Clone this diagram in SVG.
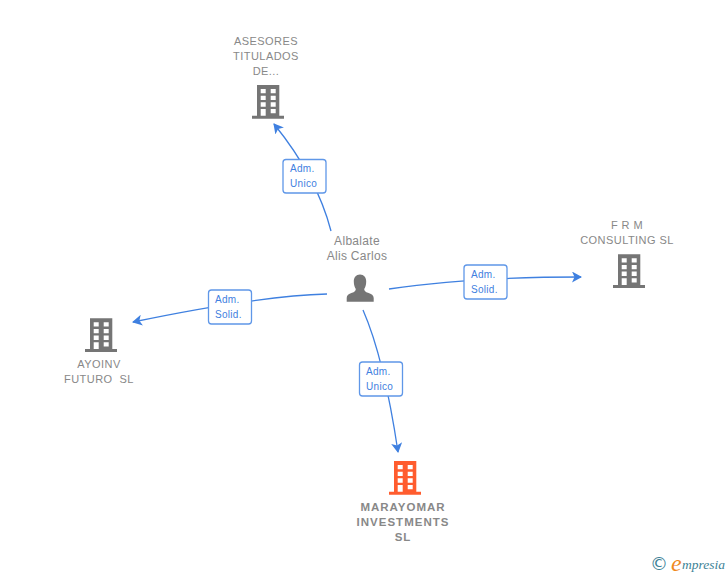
<svg xmlns="http://www.w3.org/2000/svg" xmlns:xlink="http://www.w3.org/1999/xlink" width="728" height="575" viewBox="0 0 728 575">
<style>
text{font-family:"Liberation Sans",Arial,sans-serif}
.n{font-size:11px;fill:#888;text-anchor:middle;letter-spacing:.45px}
.b{font-weight:bold;font-size:11.5px;letter-spacing:1px}
.p{font-size:12px;letter-spacing:.3px}
.l{font-size:10px;fill:#3f80e0;letter-spacing:.3px}
.c{fill:none;stroke:#3f80e0;stroke-width:1.300}
.box{fill:#fff;stroke:#5f97e8;stroke-width:1.300}
.ah{fill:#3f80e0}
</style>
<defs>
<path id="bld" fill-rule="evenodd" d="M5 0H27.300V30.700H32V33.700H0V30.700H5ZM8.700 4V8.300H13.700V4ZM18.700 4V8.300H23.700V4ZM8.700 10.700V15H13.700V10.700ZM18.700 10.700V15H23.700V10.700ZM8.700 17.300V21.700H13.700V17.300ZM18.700 17.300V21.700H23.700V17.300ZM8.700 24V30.700H13.700V24ZM18.700 24V28.300H23.700V24Z"/>
<marker id="arr" viewBox="0 0 10 11" refX="9" refY="5.500" markerWidth="10" markerHeight="11" markerUnits="userSpaceOnUse" orient="auto"><path class="ah" d="M0 0L10 5.500L0 11L2.500 5.500Z"/></marker>
</defs>
<g id="connectors">
<path class="c" marker-end="url(#arr)" d="M331 231Q317 177 274 124"/>
<path class="c" marker-end="url(#arr)" d="M389 289Q470 277 581 277"/>
<path class="c" marker-end="url(#arr)" d="M327 294Q258 296 133 322"/>
<path class="c" marker-end="url(#arr)" d="M363 310Q384 358 398 452"/>
</g>
<g id="edge-labels">
<g><rect class="box" x="283" y="159.500" width="43" height="33.500" rx="3"/><text class="l" x="290" y="172">Adm.</text><text class="l" x="290" y="187">Unico</text></g>
<g><rect class="box" x="464" y="265" width="43" height="34" rx="3"/><text class="l" x="471" y="278">Adm.</text><text class="l" x="471" y="293">Solid.</text></g>
<g><rect class="box" x="208.500" y="290" width="43" height="34" rx="3"/><text class="l" x="215" y="303">Adm.</text><text class="l" x="215" y="318">Solid.</text></g>
<g><rect class="box" x="359.500" y="362" width="43" height="34" rx="3"/><text class="l" x="366" y="375">Adm.</text><text class="l" x="366" y="390">Unico</text></g>
</g>
<g id="node-asesores"><use xlink:href="#bld" href="#bld" x="252" y="85" fill="#757575"/>
<text class="n" x="266" y="45">ASESORES</text><text class="n" x="266" y="60">TITULADOS</text><text class="n" x="266" y="75">DE...</text></g>
<g id="node-frm"><use xlink:href="#bld" href="#bld" x="613" y="254.300" fill="#757575"/>
<text class="n" x="627" y="229">F R M</text><text class="n" x="627" y="244">CONSULTING SL</text></g>
<g id="node-ayoinv"><use xlink:href="#bld" href="#bld" x="85" y="318.300" fill="#757575"/>
<text class="n" x="99" y="368">AYOINV</text><text class="n" x="99" y="383" xml:space="preserve">FUTURO  SL</text></g>
<g id="node-marayomar"><use xlink:href="#bld" href="#bld" x="389" y="461" fill="#ff5c2e"/>
<text class="n b" x="403" y="511">MARAYOMAR</text><text class="n b" x="403" y="526">INVESTMENTS</text><text class="n b" x="403" y="541">SL</text></g>
<g id="node-albalate"><path fill="#757575" d="M360 274.500C356 274.500 353.800 277.500 353.800 281.500C353.800 285 354.800 287.500 355.800 289C355.800 291 354.500 292 352 292.800C348.500 294 346.700 295.500 346.700 298V301.700H373.700V298C373.700 295.500 371.500 294 368 292.800C365.500 292 364.200 291 364.200 289C365.200 287.500 366.200 285 366.200 281.500C366.200 277.500 364 274.500 360 274.500Z"/>
<text class="n p" x="357" y="245">Albalate</text><text class="n p" x="357" y="260">Alis Carlos</text></g>
<g id="logo"><text x="650" y="570" font-size="18" fill="#3d8296" style="font-family:'DejaVu Sans',sans-serif">©</text>
<text x="671" y="571" font-size="24" fill="#f08a1d" font-style="italic" style="font-family:'Liberation Serif',serif">e</text>
<text x="682" y="569" font-size="13.500" fill="#3d8296" font-style="italic" style="font-family:'Liberation Serif',serif">mpresia</text></g>
</svg>
